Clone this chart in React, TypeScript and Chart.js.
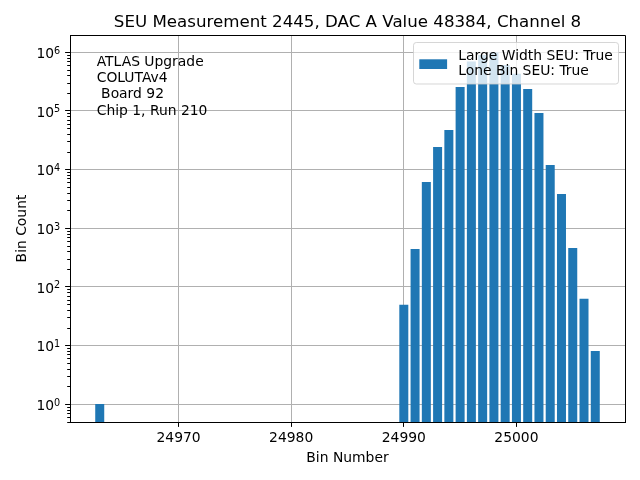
import React, { useEffect, useRef } from 'react';
import { Chart, registerables } from 'chart.js';

Chart.register(...registerables);

// ---- Data ----
const binNumbers = [
  24963,
  24990, 24991, 24992, 24993, 24994, 24995, 24996, 24997, 24998,
  24999, 25000, 25001, 25002, 25003, 25004, 25005, 25006, 25007,
];
const binCounts = [
  1,
  49, 438, 6080, 24000, 46800, 253000, 690000, 889000, 980000,
  600000, 427000, 234000, 91200, 11850, 3800, 456, 62, 8,
];
const xTickValues = [24970, 24980, 24990, 25000];
const yTickValues = [1, 10, 100, 1000, 10000, 100000, 1000000];
const titleText = 'SEU Measurement 2445, DAC A Value 48384, Channel 8';
const xLabel = 'Bin Number';
const yLabel = 'Bin Count';
const infoLines = ['ATLAS Upgrade', 'COLUTAv4', ' Board 92', 'Chip 1, Run 210'];
const legendLines = ['Large Width SEU: True', 'Lone Bin SEU: True'];

const X_MIN = 24960.36;
const X_MAX = 25009.64;
const Y_MIN = 0.4934;
const Y_MAX = 1.949e6;

const BAR_COLOR = '#1f77b4';
const FONT = "'DejaVu Sans', sans-serif";
const FS = 13.89;
const FS_SUP = 9.7;

const decorPlugin = {
  id: 'decor',
  afterDraw(chart: any) {
    const { ctx, chartArea } = chart;
    const { left, right, top, bottom } = chartArea;
    const yScale = chart.scales.y;
    ctx.save();

    // frame (top & right)
    ctx.strokeStyle = '#000';
    ctx.lineWidth = 1;
    ctx.beginPath();
    ctx.moveTo(Math.round(left) + 0.5, Math.round(top) + 0.5);
    ctx.lineTo(Math.round(right) + 0.5, Math.round(top) + 0.5);
    ctx.lineTo(Math.round(right) + 0.5, Math.round(bottom) + 0.5);
    ctx.stroke();

    // minor log ticks
    ctx.beginPath();
    for (let n = -1; n <= 7; n++) {
      for (let k = 2; k <= 9; k++) {
        const v = k * Math.pow(10, n);
        if (v < Y_MIN || v > Y_MAX) continue;
        const y = Math.round(yScale.getPixelForValue(v)) + 0.5;
        ctx.moveTo(left - 2.8, y);
        ctx.lineTo(left, y);
      }
    }
    ctx.stroke();

    // y tick labels: 10 with raised exponent
    ctx.fillStyle = '#000';
    ctx.textBaseline = 'alphabetic';
    ctx.textAlign = 'left';
    const rightEdge = left - 9.8;
    yTickValues.forEach((v) => {
      const y = yScale.getPixelForValue(v);
      const exp = String(Math.round(Math.log10(v)));
      ctx.font = `${FS_SUP}px ${FONT}`;
      const we = ctx.measureText(exp).width;
      ctx.font = `${FS}px ${FONT}`;
      const wb = ctx.measureText('10').width;
      const x0 = rightEdge - we - wb;
      ctx.fillText('10', x0, y + 6);
      ctx.font = `${FS_SUP}px ${FONT}`;
      ctx.fillText(exp, x0 + wb, y + 1.8);
    });

    // title
    ctx.font = `16.67px ${FONT}`;
    ctx.textAlign = 'center';
    ctx.fillText(titleText, (left + right) / 2, 26.7);

    // axis labels
    ctx.font = `${FS}px ${FONT}`;
    ctx.fillText(xLabel, (left + right) / 2, 461.8);
    ctx.save();
    ctx.translate(25.5, (top + bottom) / 2);
    ctx.rotate(-Math.PI / 2);
    ctx.fillText(yLabel, 0, 0);
    ctx.restore();

    // info text
    ctx.textAlign = 'left';
    infoLines.forEach((line, i) => {
      ctx.fillText(line, 96.7, 66 + i * 16.2);
    });

    // legend
    const lx = 413.5, ly = 42.5, lw = 205, lh = 41.5, r = 2.8;
    ctx.beginPath();
    ctx.moveTo(lx + r, ly);
    ctx.lineTo(lx + lw - r, ly);
    ctx.quadraticCurveTo(lx + lw, ly, lx + lw, ly + r);
    ctx.lineTo(lx + lw, ly + lh - r);
    ctx.quadraticCurveTo(lx + lw, ly + lh, lx + lw - r, ly + lh);
    ctx.lineTo(lx + r, ly + lh);
    ctx.quadraticCurveTo(lx, ly + lh, lx, ly + lh - r);
    ctx.lineTo(lx, ly + r);
    ctx.quadraticCurveTo(lx, ly, lx + r, ly);
    ctx.closePath();
    ctx.fillStyle = 'rgba(255,255,255,0.8)';
    ctx.fill();
    ctx.strokeStyle = 'rgba(204,204,204,0.8)';
    ctx.lineWidth = 1;
    ctx.stroke();

    ctx.fillStyle = BAR_COLOR;
    ctx.fillRect(419.3, 59.3, 27.8, 9.7);

    ctx.fillStyle = '#000';
    ctx.font = `${FS}px ${FONT}`;
    ctx.textAlign = 'left';
    legendLines.forEach((line, i) => {
      ctx.fillText(line, 458.3, 59.5 + i * 15.6);
    });

    ctx.restore();
  },
};

export default function App() {
  const canvasRef = useRef<HTMLCanvasElement | null>(null);

  useEffect(() => {
    if (!canvasRef.current) return;
    const data = binNumbers.map((x, i) => ({ x, y: binCounts[i] }));
    const chart = new Chart(canvasRef.current, {
      type: 'bar',
      data: {
        datasets: [
          {
            label: legendLines.join('\n'),
            data,
            backgroundColor: BAR_COLOR,
            borderWidth: 0,
            barPercentage: 0.8,
            categoryPercentage: 1.0,
          } as any,
        ],
      },
      options: {
        animation: false,
        responsive: true,
        maintainAspectRatio: false,
        events: [],
        layout: { padding: { top: 35, right: 15, left: 0, bottom: 0 } },
        plugins: {
          legend: { display: false },
          title: { display: false },
          tooltip: { enabled: false },
        },
        scales: {
          x: {
            type: 'linear',
            min: X_MIN,
            max: X_MAX,
            offset: false,
            z: 1,
            grid: {
              offset: false,
              color: '#b0b0b0',
              lineWidth: 1,
              tickColor: '#000',
              tickLength: 4.9,
              tickWidth: 1,
            },
            border: { display: true, color: '#000', width: 1 },
            ticks: {
              color: '#000',
              font: { family: FONT, size: FS },
              padding: 3,
              maxRotation: 0,
              autoSkip: false,
              callback: (v: any) => String(v),
            },
            afterBuildTicks: (s: any) => {
              s.ticks = xTickValues.map((v) => ({ value: v }));
            },
            afterFit: (s: any) => {
              s.height = 58;
            },
          },
          y: {
            type: 'logarithmic',
            min: Y_MIN,
            max: Y_MAX,
            z: 1,
            grid: {
              color: '#b0b0b0',
              lineWidth: 1,
              tickColor: '#000',
              tickLength: 4.9,
              tickWidth: 1,
            },
            border: { display: true, color: '#000', width: 1 },
            ticks: {
              color: 'rgba(0,0,0,0)',
              font: { family: FONT, size: FS },
              padding: 4.9,
              autoSkip: false,
              callback: (v: any) => '10^' + Math.round(Math.log10(Number(v))),
            },
            afterBuildTicks: (s: any) => {
              s.ticks = yTickValues.map((v) => ({ value: v, major: true }));
            },
            afterFit: (s: any) => {
              s.width = 70;
            },
          },
        } as any,
      },
      plugins: [decorPlugin],
    });
    return () => chart.destroy();
  }, []);

  return (
    <div style={{ position: 'fixed', left: 0, top: 0, width: 640, height: 480, background: '#fff' }}>
      <canvas ref={canvasRef} />
    </div>
  );
}
